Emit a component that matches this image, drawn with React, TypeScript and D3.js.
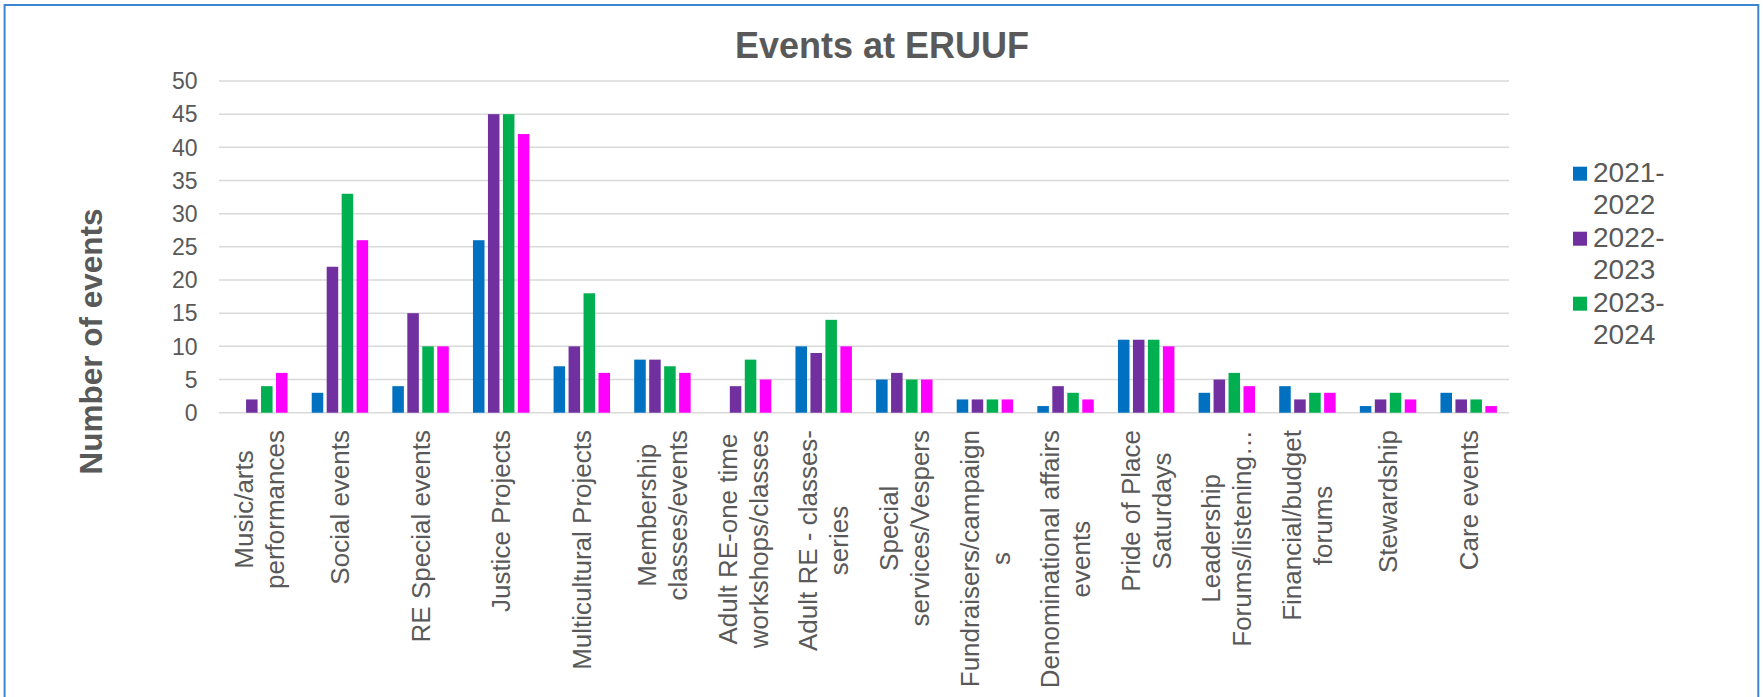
import React from "react";
import * as d3 from "d3";

const categories: string[][] = [
  ["Music/arts", "performances"],
  ["Social events"],
  ["RE Special events"],
  ["Justice Projects"],
  ["Multicultural Projects"],
  ["Membership", "classes/events"],
  ["Adult RE-one time", "workshops/classes"],
  ["Adult RE - classes-", "series"],
  ["Special", "services/Vespers"],
  ["Fundraisers/campaign", "s"],
  ["Denominational affairs", "events"],
  ["Pride of Place", "Saturdays"],
  ["Leadership", "Forums/listening…"],
  ["Financial/budget", "forums"],
  ["Stewardship"],
  ["Care events"],
];

const seriesNames = ["2021-2022", "2022-2023", "2023-2024", "2024-2025"];
const legendLines: string[][] = [
  ["2021-", "2022"],
  ["2022-", "2023"],
  ["2023-", "2024"],
];
const colors = ["#0070C0", "#7030A0", "#00B050", "#FF00FF"];

const s2122 = [0, 3, 4, 26, 7, 8, 0, 10, 5, 2, 1, 11, 3, 4, 1, 3];
const s2223 = [2, 22, 15, 45, 10, 8, 4, 9, 6, 2, 4, 11, 5, 2, 2, 2];
const s2324 = [4, 33, 10, 45, 18, 7, 8, 14, 5, 2, 3, 11, 6, 3, 3, 2];
const s2425 = [6, 26, 10, 42, 6, 6, 5, 10, 5, 2, 2, 10, 4, 3, 2, 1];
const seriesValues = [s2122, s2223, s2324, s2425];

const yTicks = [0, 5, 10, 15, 20, 25, 30, 35, 40, 45, 50];

const TEXT = "#595959";
const FONT = "'Liberation Sans', Arial, sans-serif";

let ctx: CanvasRenderingContext2D | null = null;
function measure(text: string, size: number): number {
  if (!ctx) {
    const c = document.createElement("canvas");
    ctx = c.getContext("2d");
  }
  if (!ctx) return text.length * size * 0.5;
  ctx.font = `${size}px ${FONT}`;
  return ctx.measureText(text).width;
}

export default function App() {
  const W = 1763;
  const H = 697;
  const keys = categories.map((c) => c.join(" "));
  const x0 = d3
    .scaleBand<string>()
    .domain(keys)
    .range([219, 1509])
    .paddingInner(0.3)
    .paddingOuter(0.15);
  const x1 = d3
    .scaleBand<string>()
    .domain(seriesNames)
    .range([0, x0.bandwidth()])
    .paddingInner(0.23);
  const y = d3.scaleLinear().domain([0, 50]).range([412.7, 81]);

  const labelSize = 26;
  const lineGap = 31;

  return (
    <svg
      width={W}
      height={H}
      style={{ position: "fixed", left: 0, top: 0, background: "#fff" }}
      fontFamily={FONT}
    >
      <rect x={0} y={0} width={W} height={H} fill="#fff" />
      <rect
        x={4.6}
        y={5}
        width={1753.7}
        height={720}
        fill="none"
        stroke="#3A86D0"
        strokeWidth={2}
      />
      <text
        x={882}
        y={57.7}
        textAnchor="middle"
        fontSize={36}
        fontWeight="bold"
        fill={TEXT}
      >
        Events at ERUUF
      </text>

      {yTicks.map((t) => (
        <g key={t}>
          <line
            x1={219}
            x2={1509}
            y1={y(t)}
            y2={y(t)}
            stroke="#D9D9D9"
            strokeWidth={1.5}
          />
          <text
            x={197.5}
            y={y(t)}
            dy="0.36em"
            textAnchor="end"
            fontSize={23}
            fill={TEXT}
          >
            {t}
          </text>
        </g>
      ))}

      <text
        transform={`translate(102,341.5) rotate(-90)`}
        textAnchor="middle"
        fontSize={31.5}
        fontWeight="bold"
        fill={TEXT}
      >
        Number of events
      </text>

      {keys.map((k, ci) => (
        <g key={k} transform={`translate(${x0(k)},0)`}>
          {seriesNames.map((s, si) => {
            const v = seriesValues[si][ci];
            return (
              <rect
                key={s}
                x={x1(s)}
                y={y(v)}
                width={x1.bandwidth()}
                height={y(0) - y(v)}
                fill={colors[si]}
              />
            );
          })}
        </g>
      ))}

      {categories.map((lines, ci) => {
        const k = keys[ci];
        const cx = (x0(k) ?? 0) + x0.bandwidth() / 2;
        const maxLen = Math.max(...lines.map((l) => measure(l, labelSize)));
        const cy = 430 + maxLen / 2;
        return (
          <g key={k}>
            {lines.map((l, li) => {
              const lx = cx + (li - (lines.length - 1) / 2) * lineGap;
              return (
                <text
                  key={li}
                  transform={`translate(${lx},${cy}) rotate(-90)`}
                  textAnchor="middle"
                  dy="0.35em"
                  fontSize={labelSize}
                  fill={TEXT}
                >
                  {l}
                </text>
              );
            })}
          </g>
        );
      })}

      {legendLines.map((lines, i) => {
        const base = 181.7 + i * 65;
        return (
          <g key={i}>
            <rect x={1573} y={base - 15} width={14} height={14} fill={colors[i]} />
            {lines.map((l, li) => (
              <text
                key={li}
                x={1593}
                y={base + li * 32.5}
                fontSize={28}
                fill={TEXT}
              >
                {l}
              </text>
            ))}
          </g>
        );
      })}
    </svg>
  );
}
